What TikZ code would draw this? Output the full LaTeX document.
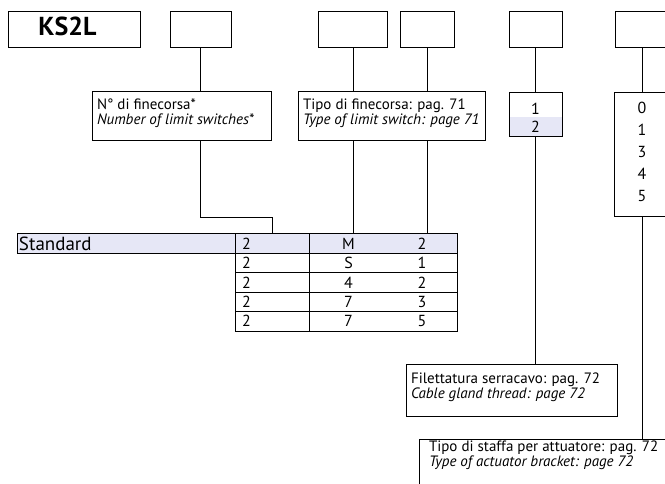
\documentclass[tikz,border=0pt]{standalone}
\usepackage{fontspec}
\setmainfont{PT Sans}
\usetikzlibrary{calc}
\definecolor{hilite}{RGB}{230,231,246}

\begin{document}
\begin{tikzpicture}
[x=1pt,y=-1pt,line width=1pt,
 codebox/.style={draw,rectangle,minimum height=36,inner sep=0pt},
 descbox/.style={draw,rectangle,inner sep=0pt},
 desctext/.style={anchor=north west,align=left,inner xsep=5pt,inner ysep=0pt,font=\fontsize{15}{14.5}\selectfont},
 cell/.style={draw,rectangle,minimum height=19.4,inner sep=0pt,font=\fontsize{16}{16}\selectfont},
 celltext/.style={inner sep=0pt,font=\fontsize{16}{16}\selectfont}]

% the page
\useasboundingbox (0,0) rectangle (665,484);
\clip (0,0) rectangle (665,484);

% the code boxes
\node[codebox,minimum width=132] (ks) at (74,30) {};
\node[font=\fontsize{26}{26}\selectfont\bfseries] (kstext) at (67.5,26) {KS2L};
\node[codebox,minimum width=61] (b1) at (200.5,30) {};
\node[codebox,minimum width=69] (b2) at (353,30) {};
\node[codebox,minimum width=54] (b3) at (427,30) {};
\node[codebox,minimum width=53] (b4) at (535.5,30) {};
\node[codebox,minimum width=54] (b5) at (642,30) {};

% the descriptions
\node[descbox,minimum width=179,minimum height=49] (nfc) at (181.5,116.5) {};
\node[desctext,yshift=-7pt] at (nfc.north west) {N° di finecorsa*\\\textit{Number of limit switches*}};
\node[descbox,minimum width=187,minimum height=49] (tipo) at (391.5,116.5) {};
\node[desctext,yshift=-7pt] at (tipo.north west) {Tipo di finecorsa: pag. 71\\\textit{Type of limit switch: page 71}};
\node[descbox,minimum width=211,minimum height=52] (fil) at (511.5,390) {};
\node[desctext,yshift=-9pt] at (fil.north west) {Filettatura serracavo: pag. 72\\\textit{Cable gland thread: page 72}};
\node[descbox,minimum width=253,minimum height=56] (staffa) at (545.5,467) {};
\node[desctext,yshift=-2pt,inner xsep=10pt] at (staffa.north west) {Tipo di staffa per attuatore: pag. 72\\\textit{Type of actuator bracket: page 72}};

% the options
\node[celltext,fill=hilite,minimum width=53,minimum height=20] (r2) at (535.5,127) {2};
\node[descbox,minimum width=53,minimum height=44] (sel1) at (535.5,115) {};
\node[celltext] (r1) at (535.5,108.5) {1};
\node[descbox,minimum width=56,minimum height=124] (sel2) at (642,155) {};
\node[celltext,align=center,anchor=north,yshift=-9pt,font=\fontsize{16}{22}\selectfont] at (sel2.north) {0\\1\\3\\4\\5};

% the table
\node[cell,fill=hilite,minimum width=218,text width=214,inner xsep=2pt,align=left,font=\fontsize{19}{19}\selectfont] (std) at (126,243.7) {Standard};
\foreach \a/\b/\c/\f [count=\i] in {2/M/2/hilite,2/S/1/white,2/4/2/white,2/7/3/white,2/7/5/white}{
  \pgfmathsetmacro\y{224.3+19.4*\i}
  \node[cell,fill=\f,minimum width=74,text width=60,inner xsep=7pt,align=left] (c\i1) at (272,\y) {\a};
  \node[cell,fill=\f,minimum width=148] (c\i2) at (383,\y) {};
  \node[celltext] at (348.5,\y) {\b};
  \node[celltext] at (422,\y) {\c};
}

% the connectors
\draw (b1) -- (b1 |- nfc.north);
\draw (b1 |- nfc.south) -- ++(0,76) -| (c11.north);
\draw (b2) -- (b2 |- tipo.north);
\draw (b2 |- tipo.south) -- (b2 |- c12.north);
\draw (b3) -- (b3 |- tipo.north);
\draw (b3 |- tipo.south) -- (b3 |- c12.north);
\draw (b4) -- (sel1);
\draw (sel1) -- (b4 |- fil.north);
\draw (b5) -- (sel2);
\draw (sel2) -- (b5 |- staffa.north);
\end{tikzpicture}
\end{document}
